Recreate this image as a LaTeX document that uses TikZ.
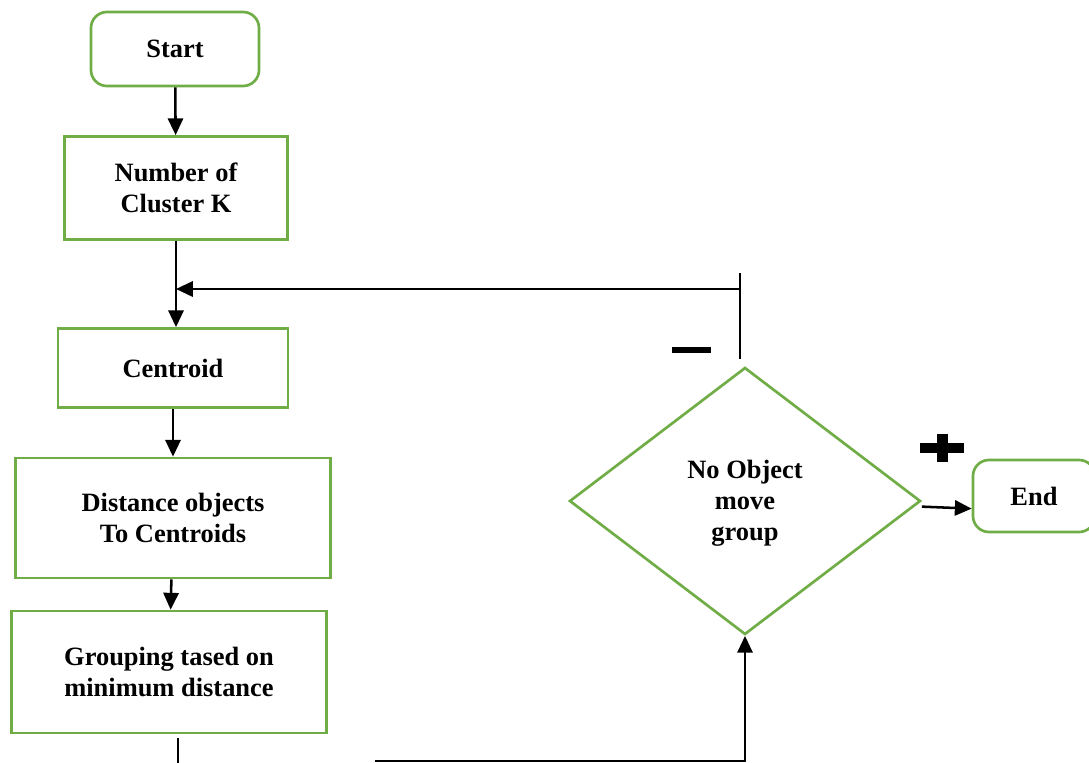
\documentclass[tikz,border=0pt]{standalone}
\usepackage{fontspec}
\setmainfont{Liberation Serif}
\usepackage{tikz}
\usetikzlibrary{shapes.geometric}
\usetikzlibrary{arrows.meta}
\definecolor{leafgreen}{HTML}{70AD47}

\begin{document}
\begin{tikzpicture}[x=0.025cm, y=-0.025cm,
    box/.style={draw=leafgreen, line width=1.9pt, align=center, inner sep=0pt,
        font=\bfseries\fontsize{18.8}{22}\selectfont},
    terminal/.style={box, rounded corners=4mm},
    decision/.style={box, diamond, aspect=1.31},
    flow/.style={line width=1.8pt, -{Triangle[length=4.2mm, width=3.8mm]}},
    plain/.style={line width=1.8pt}]

        \useasboundingbox (0,0) rectangle (1089,762);

        % Start
        \node[terminal, minimum width=4.2cm, minimum height=1.85cm] (start) at (175,49) {Start};

        % Number of clusters
        \node[box, minimum width=5.575cm, minimum height=2.575cm] (numk) at (176,188) {Number of\\Cluster K};

        % Centroid
        \node[box, minimum width=5.75cm, minimum height=1.975cm] (centroid) at (173,368) {Centroid};

        % Distance
        \node[box, minimum width=7.875cm, minimum height=3cm] (dist) at (173,518) {Distance objects\\To Centroids};

        % Grouping
        \node[box, minimum width=7.875cm, minimum height=3.05cm] (group) at (169,672) {Grouping tased on\\minimum distance};

        % Decision
        \node[decision, minimum width=8.775cm, minimum height=6.675cm] (nomove) at (745,501)
            {\rule{0pt}{16pt}No Object\\move\\group};

        % End
        \node[terminal, minimum width=3.05cm, minimum height=1.8cm] (end) at (1034,496) {End};

        % arrows down the left
        \draw[flow] (start) -- (numk);
        \draw[flow] (numk.south) -- (numk.south |- centroid.north);
        \draw[flow] (centroid) -- (dist);
        \draw[flow] (dist) -- (group);

        % loop back to centroid
        \coordinate (fbtop) at (740,273);
        \coordinate (fbbot) at (740,359);
        \coordinate (fbjoin) at (740,289);
        \draw[plain] (fbtop) -- (fbbot);
        \draw[flow] (fbjoin) -- (fbjoin -| numk.south);

        % out of grouping, round to decision
        \coordinate (gtop) at (178,738);
        \coordinate (gbot) at (178,765);
        \draw[plain] (gtop) -- (gbot);
        \coordinate (loopstart) at (375,761);
        \draw[flow] (loopstart) -| (nomove.south);

        % yes branch
        \draw[flow] ([yshift=-4pt]nomove.east) -- ([yshift=-9pt]end.west);

        % minus and plus signs
        \fill (672,347) rectangle (711,353);
        \fill (920,443) rectangle (964,453);
        \fill (937,434) rectangle (948,462);

\end{tikzpicture}
\end{document}
